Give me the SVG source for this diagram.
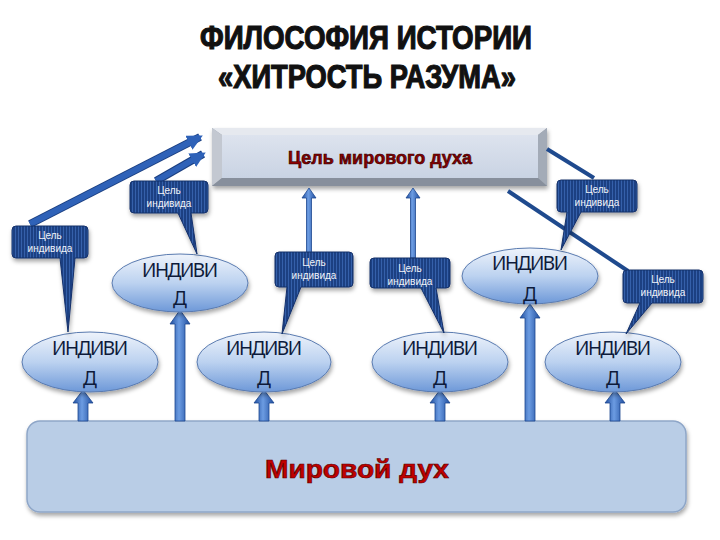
<svg xmlns="http://www.w3.org/2000/svg" width="720" height="540" viewBox="0 0 720 540">
<defs>
  <style>
    .title{font-family:"Liberation Sans Narrow","Liberation Sans",Arial,sans-serif;font-weight:bold;font-size:33px;fill:#111;stroke:#111;stroke-width:1.2;}
    .callout-text{font-family:"Liberation Sans",Arial,sans-serif;font-size:10px;fill:#f2f4f8;text-anchor:middle;}
    .ind{font-family:"Noto Sans","Open Sans",sans-serif;font-size:19px;fill:#0d1a3a;text-anchor:middle;}
    .callout{fill:url(#grid);stroke:#13306a;stroke-width:1;}
    .ell{fill:url(#ellG);stroke:#5a7bb0;stroke-width:1;}
    .line{stroke:#2f62b8;stroke-width:6;fill:none;}
    .lineEdge{stroke:#1b3f80;stroke-width:8;fill:none;}
    .thin{stroke:#1f4a8e;stroke-width:4;fill:none;}
    .arrow{fill:url(#arrG);stroke:#1d4790;stroke-width:0.8;}
  </style>
  <linearGradient id="ellG" x1="0" y1="0" x2="0" y2="1">
    <stop offset="0" stop-color="#eef3fb"/>
    <stop offset="0.5" stop-color="#bcd2f0"/>
    <stop offset="1" stop-color="#6d98d8"/>
  </linearGradient>
  <linearGradient id="arrG" x1="0" y1="0" x2="1" y2="0">
    <stop offset="0" stop-color="#1f4d9e"/>
    <stop offset="0.45" stop-color="#6c9ce2"/>
    <stop offset="1" stop-color="#1f4d9e"/>
  </linearGradient>
  <linearGradient id="faceG" x1="0" y1="0" x2="0" y2="1">
    <stop offset="0" stop-color="#dde3ee"/>
    <stop offset="1" stop-color="#c9d3e3"/>
  </linearGradient>
  <pattern id="grid" width="3" height="3" patternUnits="userSpaceOnUse">
    <rect width="3" height="3" fill="#1d3f82"/>
    <rect x="0" width="1" height="3" fill="#3560aa"/>
  </pattern>
  <filter id="sh" x="-10%" y="-10%" width="120%" height="140%">
    <feDropShadow dx="1" dy="3" stdDeviation="2" flood-color="#000" flood-opacity="0.35"/>
  </filter>
  <marker id="ah" viewBox="0 0 10 10" refX="8" refY="5" markerWidth="2.6" markerHeight="2.6" orient="auto">
    <path d="M0,0 L10,5 L0,10 z" fill="#2f62b8"/>
  </marker>
</defs>

<rect width="720" height="540" fill="#ffffff"/>

<!-- Title -->
<g id="title">
  <text class="title" x="366" y="49" text-anchor="middle" textLength="332" lengthAdjust="spacingAndGlyphs">ФИЛОСОФИЯ ИСТОРИИ</text>
  <text class="title" x="367" y="88" text-anchor="middle" textLength="298" lengthAdjust="spacingAndGlyphs">«ХИТРОСТЬ РАЗУМА»</text>
</g>

<!-- Bottom box -->
<g id="world-spirit">
  <rect x="27" y="421" width="659" height="91" rx="13" fill="#b9cde6" stroke="#8ea6c8" stroke-width="1.5" filter="url(#sh)"/>
  <text x="357" y="478" text-anchor="middle" font-family="'Liberation Sans',Arial,sans-serif" font-weight="bold" font-size="26" fill="#c00000" stroke="#5a0000" stroke-width="0.7" textLength="184" lengthAdjust="spacingAndGlyphs">Мировой дух</text>
</g>

<!-- Top box -->
<g id="world-goal">
  <g filter="url(#sh)">
    <rect x="212" y="128" width="335" height="58" fill="#9aa2ae"/>
    <polygon points="212,128 547,128 538,135 222,135" fill="#e6e9ef"/>
    <polygon points="212,128 222,135 222,178 212,186" fill="#c3c8d1"/>
    <polygon points="547,128 547,186 538,178 538,135" fill="#a3abb7"/>
    <polygon points="212,186 222,178 538,178 547,186" fill="#878f9c"/>
    <rect x="222" y="135" width="316" height="43" fill="url(#faceG)"/>
  </g>
  <text x="380" y="164" text-anchor="middle" font-family="'Liberation Sans',Arial,sans-serif" font-weight="bold" font-size="18" fill="#8b0000" stroke="#2a0000" stroke-width="0.6" textLength="184" lengthAdjust="spacingAndGlyphs">Цель мирового духа</text>
</g>

<!-- Connectors -->
<g id="connectors">
  <line class="lineEdge" x1="30" y1="224" x2="200" y2="137"/>
  <line class="line" x1="30" y1="224" x2="200" y2="137" marker-end="url(#ah)"/>
  <line class="lineEdge" x1="156" y1="181" x2="203" y2="154"/>
  <line class="line" x1="156" y1="181" x2="203" y2="154" marker-end="url(#ah)"/>
  <line class="thin" x1="594" y1="178" x2="547" y2="149"/>
  <line class="thin" x1="628" y1="271" x2="508" y2="191"/>
  <path class="arrow" d="M306.5,253 V198 H302 L309,188 L316,198 H311.5 V253 Z"/>
  <path class="arrow" d="M410.5,258 V198 H406 L413,188 L420,198 H415.5 V258 Z"/>
  <path class="arrow" d="M78,421 V403 H73 L83,390 L93,403 H88 V421 Z"/>
  <path class="arrow" d="M259,421 V403 H254 L264,390 L274,403 H269 V421 Z"/>
  <path class="arrow" d="M435,421 V403 H430 L440,390 L450,403 H445 V421 Z"/>
  <path class="arrow" d="M610,421 V403 H605 L615,390 L625,403 H620 V421 Z"/>
  <path class="arrow" d="M175,421 V324 H170 L180,310 L190,324 H185 V421 Z"/>
  <path class="arrow" d="M525,421 V318 H520 L530,304 L540,318 H535 V421 Z"/>
</g>

<!-- Individuals, upper row -->
<g id="ind-upper-left">
  <ellipse class="ell" cx="180" cy="283" rx="68" ry="29" filter="url(#sh)"/>
  <text class="ind" x="180" y="277" textLength="76" lengthAdjust="spacing">ИНДИВИ</text>
  <text class="ind" x="180" y="305">Д</text>
</g>
<g id="ind-upper-right">
  <ellipse class="ell" cx="530" cy="276" rx="68" ry="28" filter="url(#sh)"/>
  <text class="ind" x="530" y="270" textLength="76" lengthAdjust="spacing">ИНДИВИ</text>
  <text class="ind" x="530" y="301">Д</text>
</g>

<!-- Individuals, lower row -->
<g id="ind-1">
  <ellipse class="ell" cx="90" cy="362" rx="68" ry="30" filter="url(#sh)"/>
  <text class="ind" x="90" y="355" textLength="76" lengthAdjust="spacing">ИНДИВИ</text>
  <text class="ind" x="90" y="385">Д</text>
</g>
<g id="ind-2">
  <ellipse class="ell" cx="264" cy="362" rx="67" ry="30" filter="url(#sh)"/>
  <text class="ind" x="264" y="355" textLength="76" lengthAdjust="spacing">ИНДИВИ</text>
  <text class="ind" x="264" y="385">Д</text>
</g>
<g id="ind-3">
  <ellipse class="ell" cx="440" cy="362" rx="68" ry="30" filter="url(#sh)"/>
  <text class="ind" x="440" y="355" textLength="76" lengthAdjust="spacing">ИНДИВИ</text>
  <text class="ind" x="440" y="385">Д</text>
</g>
<g id="ind-4">
  <ellipse class="ell" cx="613" cy="362" rx="68" ry="30" filter="url(#sh)"/>
  <text class="ind" x="613" y="355" textLength="76" lengthAdjust="spacing">ИНДИВИ</text>
  <text class="ind" x="613" y="385">Д</text>
</g>

<!-- Callouts "Цель индивида" -->
<g id="goal-1">
  <path class="callout" filter="url(#sh)" d="M134,181 H204 Q208,181 208,185 V209 Q208,213 204,213 H191 L197,254 L178,213 H134 Q130,213 130,209 V185 Q130,181 134,181 Z"/>
  <text class="callout-text" x="169" y="194">Цель</text>
  <text class="callout-text" x="169" y="207">индивида</text>
</g>
<g id="goal-2">
  <path class="callout" filter="url(#sh)" d="M16,226 H84 Q88,226 88,230 V254 Q88,258 84,258 H75 L68,332 L60,258 H16 Q12,258 12,254 V230 Q12,226 16,226 Z"/>
  <text class="callout-text" x="50" y="239">Цель</text>
  <text class="callout-text" x="50" y="252">индивида</text>
</g>
<g id="goal-3">
  <path class="callout" filter="url(#sh)" d="M279,252 H349 Q353,252 353,256 V283 Q353,287 349,287 H301 L282,334 L287,287 H279 Q275,287 275,283 V256 Q275,252 279,252 Z"/>
  <text class="callout-text" x="314" y="266">Цель</text>
  <text class="callout-text" x="314" y="279">индивида</text>
</g>
<g id="goal-4">
  <path class="callout" filter="url(#sh)" d="M374,258 H446 Q450,258 450,262 V284 Q450,288 446,288 H436 L444,333 L421,288 H374 Q370,288 370,284 V262 Q370,258 374,258 Z"/>
  <text class="callout-text" x="410" y="272">Цель</text>
  <text class="callout-text" x="410" y="285">индивида</text>
</g>
<g id="goal-5">
  <path class="callout" filter="url(#sh)" d="M561,180 H633 Q637,180 637,184 V208 Q637,212 633,212 H581 L561,250 L567,212 H561 Q557,212 557,208 V184 Q557,180 561,180 Z"/>
  <text class="callout-text" x="597" y="193">Цель</text>
  <text class="callout-text" x="597" y="206">индивида</text>
</g>
<g id="goal-6">
  <path class="callout" filter="url(#sh)" d="M627,270 H699 Q703,270 703,274 V299 Q703,303 699,303 H652 L626,334 L640,303 H627 Q623,303 623,299 V274 Q623,270 627,270 Z"/>
  <text class="callout-text" x="663" y="283">Цель</text>
  <text class="callout-text" x="663" y="296">индивида</text>
</g>
</svg>
